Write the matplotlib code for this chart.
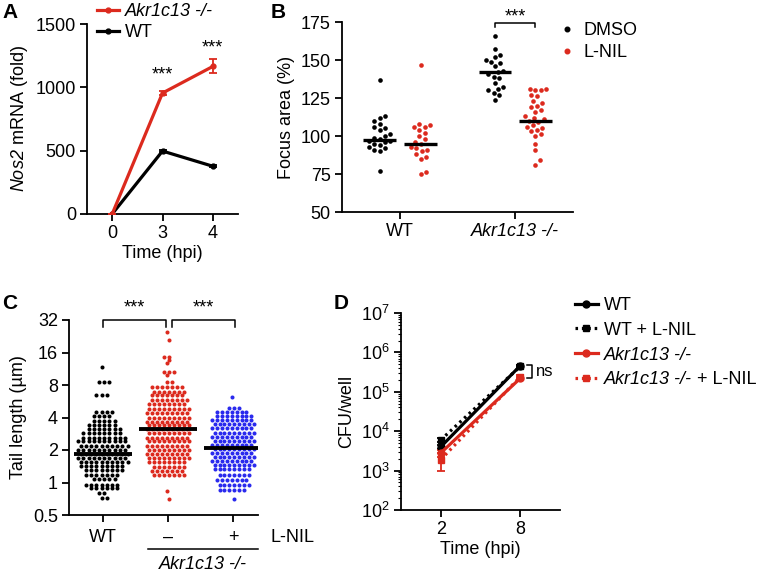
import numpy as np
import matplotlib

matplotlib.use("Agg")
import matplotlib.pyplot as plt
from matplotlib.lines import Line2D
from matplotlib.ticker import LogLocator, NullFormatter

plt.rcParams["font.family"] = ["Liberation Sans", "DejaVu Sans"]
plt.rcParams["mathtext.fontset"] = "custom"
plt.rcParams["mathtext.rm"] = "Liberation Sans"
plt.rcParams["mathtext.sf"] = "Liberation Sans:italic"
plt.rcParams["mathtext.it"] = "Liberation Sans:italic"
plt.rcParams["mathtext.bf"] = "Liberation Sans:bold"

W, H = 766, 574
FS = 13
RED = "#DC2A1E"
BLUE = "#2A2AEE"

# ---- panel A: Nos2 mRNA time course
a_time_labels = ["0", "3", "4"]
a_akr = [0, 955, 1165]
a_akr_err = [0, 15, 55]
a_wt = [0, 497, 377]
a_wt_err = [0, 8, 8]

# ---- panel B: focus area (%)
b_groups = ["WT", "Akr1c13 -/-"]
b_wt_dmso = [137, 113, 112, 110, 108, 106, 105, 104, 101, 100, 99, 98, 97, 97,
             96, 95, 94, 93, 92, 91, 90, 77]
b_wt_lnil = [147, 108, 107, 106, 106, 104, 102, 100, 98, 96, 95, 93, 92, 91,
             90, 88, 86, 85, 76, 75]
b_ko_dmso = [166, 157, 153, 152, 150, 149, 148, 146, 143, 142, 141, 139, 138,
             135, 132, 131, 130, 128, 127, 124]
b_ko_lnil = [131, 131, 130, 130, 127, 126, 123, 122, 120, 119, 117, 116, 113,
             112, 111, 110, 109, 107, 106, 105, 104, 103, 101, 100, 95, 91, 84, 81]
b_medians = [97.5, 95, 142, 110]

# ---- panel C: tail length (um), dot rows
c_tick_labels = ["WT", "\u2013", "+"]
c_wt_levels = [11.7, 8.5, 6.5, 4.5, 4.1, 3.7, 3.4, 3.1, 2.85, 2.6, 2.4, 2.2,
               2.0, 1.84, 1.68, 1.55, 1.42, 1.30, 1.18, 1.08, 0.95, 0.89,
               0.80, 0.72]
c_wt_counts = [1, 3, 3, 4, 4, 5, 6, 7, 8, 9, 10, 10, 10, 10, 10, 10, 9, 8, 7,
               5, 7, 6, 2, 2]
c_ko_levels = [24.6, 20.9, 14.6, 13.5, 12.8, 10.6, 9.9, 8.6, 7.7, 6.9, 6.4, 5.8,
               5.3, 4.8, 4.4, 4.0, 3.65, 3.4, 3.13, 2.85, 2.6, 2.4, 2.19, 2.0,
               1.83, 1.67, 1.56, 1.40, 1.29, 1.17, 0.84, 0.70]
c_ko_counts = [1, 1, 2, 1, 1, 3, 1, 2, 7, 7, 7, 8, 8, 9, 9, 9, 9, 9, 9, 9, 9, 9,
               9, 9, 9, 9, 8, 7, 7, 7, 1, 1]
c_lnil_levels = [6.2, 4.9, 4.5, 4.13, 3.79, 3.48, 3.18, 2.89, 2.65, 2.44, 2.24,
                 2.06, 1.89, 1.73, 1.59, 1.46, 1.34, 1.17, 1.06, 0.95, 0.86, 0.71]
c_lnil_counts = [1, 3, 7, 8, 9, 9, 9, 9, 9, 9, 9, 9, 9, 9, 9, 9, 8, 7, 7, 7, 6, 1]
c_medians = [1.84, 3.13, 2.09]
c_yticks = [0.5, 1, 2, 4, 8, 16, 32]
c_ytick_labels = ["0.5", "1", "2", "4", "8", "16", "32"]

# ---- panel D: CFU/well
d_time_labels = ["2", "8"]
d_wt = [4.0e3, 4.6e5]
d_wt_err = [0.5e3, 0.3e5]
d_wt_lnil = [6.0e3, 4.4e5]
d_wt_lnil_err = [0.8e3, 0.3e5]
d_ko = [2.8e3, 2.2e5]
d_ko_err = [0.6e3, 0.2e5]
d_ko_lnil = [1.9e3, 2.4e5]
d_ko_lnil_err = [0.9e3, 0.3e5]


def add_axes_px(fig, left, top, right, bottom):
    return fig.add_axes([left / W, 1 - bottom / H, (right - left) / W, (bottom - top) / H])


def style_axes(ax):
    for side in ("top", "right"):
        ax.spines[side].set_visible(False)
    for side in ("left", "bottom"):
        ax.spines[side].set_linewidth(1.3)
    ax.tick_params(axis="both", direction="out", length=5, width=1.3,
                   labelsize=FS, pad=3)


def px_per_unit_x(ax):
    p = ax.transData.transform([[0, 1], [1, 1]])
    return abs(p[1, 0] - p[0, 0])


def swarm_offsets(ax, values, diameter_px):
    ys = ax.transData.transform(np.column_stack([np.ones(len(values)), values]))[:, 1]
    order = np.argsort(ys)
    placed = []
    offs = np.zeros(len(values))
    step = diameter_px / 4
    for n, i in enumerate(order):
        y = ys[i]
        k = 0
        found = None
        while found is None:
            if k == 0:
                cands = [0.0]
            elif n % 2:
                cands = [k * step, -k * step]
            else:
                cands = [-k * step, k * step]
            for c in cands:
                if all((c - px) ** 2 + (y - py) ** 2 >= diameter_px ** 2 for px, py in placed):
                    found = c
                    break
            k += 1
        placed.append((found, y))
        offs[i] = found
    return offs / px_per_unit_x(ax)


def fig_text_px(fig, x, y, s, **kw):
    fig.text(x / W, 1 - y / H, s, **kw)


fig = plt.figure(figsize=(W / 100, H / 100), dpi=100)

# ================= A =================
ax = add_axes_px(fig, 87, 24, 238, 214)
style_axes(ax)
xa = np.arange(len(a_time_labels))
ax.errorbar(xa, a_wt, yerr=a_wt_err, color="black", lw=2.3, marker="o", ms=3.5,
            capsize=3, elinewidth=1.3, capthick=1.3, zorder=3)
ax.errorbar(xa, a_akr, yerr=a_akr_err, color=RED, lw=2.3, marker="o", ms=3.5,
            capsize=3, elinewidth=1.3, capthick=1.3, zorder=4)
ax.set_xlim(-0.5, 2.5)
ax.set_ylim(0, 1500)
ax.set_yticks([0, 500, 1000, 1500])
ax.set_xticks(xa)
ax.set_xticklabels(a_time_labels)
ax.set_xlabel("Time (hpi)", fontsize=FS, labelpad=2)
ax.set_ylabel(r"$\mathsf{Nos2}$ mRNA (fold)", fontsize=FS, labelpad=4)
for xi, yv in ((1, a_akr[1] + 140), (2, a_akr[2] + 145)):
    ax.text(xi, yv, "***", ha="center", va="center", fontsize=FS)
a_handles = [Line2D([], [], color=RED, lw=2.3, marker="o", ms=3.5),
             Line2D([], [], color="black", lw=2.3, marker="o", ms=3.5)]
leg = ax.legend(a_handles, ["Akr1c13 -/-", "WT"], loc="upper left",
                bbox_to_anchor=(97 / W, 1 - 3 / H), bbox_transform=fig.transFigure,
                frameon=False, fontsize=FS, borderpad=0, borderaxespad=0,
                handlelength=1.2, handletextpad=0.35, labelspacing=0.22)
leg.get_texts()[0].set_fontstyle("italic")

# ================= B =================
ax = add_axes_px(fig, 342, 22, 573, 212)
style_axes(ax)
ax.set_xlim(0.5, 2.5)
ax.set_ylim(50, 175)
ax.set_yticks([50, 75, 100, 125, 150, 175])
ax.set_xticks([1, 2])
ax.set_xticklabels(b_groups)
ax.get_xticklabels()[1].set_fontstyle("italic")
ax.set_ylabel("Focus area (%)", fontsize=FS, labelpad=4)
b_sets = [(1 - 0.175, b_wt_dmso, "black"), (1 + 0.18, b_wt_lnil, RED),
          (2 - 0.175, b_ko_dmso, "black"), (2 + 0.175, b_ko_lnil, RED)]
for (xc, vals, col), med in zip(b_sets, b_medians):
    offs = swarm_offsets(ax, vals, 5.4)
    ax.scatter(xc + offs, vals, s=11, color=col, linewidths=0, zorder=3)
    ax.plot([xc - 0.14, xc + 0.14], [med, med], color="black", lw=2.4,
            solid_capstyle="butt", zorder=4)
ax.plot([2 - 0.175, 2 - 0.175, 2 + 0.175, 2 + 0.175], [172, 174.5, 174.5, 172],
        color="black", lw=1.1, clip_on=False)
ax.text(2, 178.5, "***", ha="center", va="center", fontsize=FS)
handles = [Line2D([], [], ls="none", marker="o", ms=3.3, color="black"),
           Line2D([], [], ls="none", marker="o", ms=3.3, color=RED)]
ax.legend(handles, ["DMSO", "L-NIL"], loc="upper left",
          bbox_to_anchor=(558 / W, 1 - 22 / H), bbox_transform=fig.transFigure,
          frameon=False, fontsize=FS, borderpad=0, borderaxespad=0,
          handlelength=1.0, handletextpad=0.4, labelspacing=0.28)

# ================= C =================
ax = add_axes_px(fig, 69, 320, 258, 515)
style_axes(ax)
ax.set_yscale("log", base=2)
ax.set_ylim(0.5, 32)
ax.set_xlim(0.477, 3.385)
ax.set_yticks(c_yticks)
ax.set_yticklabels(c_ytick_labels)
ax.minorticks_off()
ax.set_xticks([1, 2, 3])
ax.set_xticklabels(c_tick_labels)
ax.tick_params(axis="x", pad=5)
ax.set_ylabel("Tail length (\u00b5m)", fontsize=FS, labelpad=4)
ppu = px_per_unit_x(ax)
c_sets = [(1, c_wt_levels, c_wt_counts, "black", 5.2),
          (2, c_ko_levels, c_ko_counts, RED, 5.0),
          (3, c_lnil_levels, c_lnil_counts, BLUE, 4.9)]
for (xc, levels, counts, col, sp), med in zip(c_sets, c_medians):
    xs, ys = [], []
    for row, (lev, n) in enumerate(zip(levels, counts)):
        shift = sp * 0.25 * (1 if row % 2 else -1)
        offs = ((np.arange(n) - (n - 1) / 2) * sp + shift) / ppu
        xs.extend(xc + offs)
        ys.extend([lev] * n)
    ax.scatter(xs, ys, s=8.5, color=col, linewidths=0, zorder=3)
    ax.plot([xc - 0.45, xc + 0.45], [med, med], color="black", lw=2.8,
            solid_capstyle="butt", zorder=4)
for x0, x1 in ((1.0, 1.97), (2.06, 3.03)):
    ax.plot([x0, x0, x1, x1], [27.7, 32, 32, 27.7], color="black", lw=1.1,
            clip_on=False)
    ax.text((x0 + x1) / 2, 41, "***", ha="center", va="center", fontsize=FS)
trans = ax.get_xaxis_transform()
ax.text(3.92, -0.113, "L-NIL", transform=trans, ha="center", va="center",
        fontsize=FS, clip_on=False)
ax.plot([1.69, 3.38], [-0.174, -0.174], transform=trans, color="black", lw=1.1,
        clip_on=False)
ax.text(2.53, -0.255, "Akr1c13 -/-", transform=trans, ha="center", va="center",
        fontsize=FS, fontstyle="italic", clip_on=False)

# ================= D =================
ax = add_axes_px(fig, 401, 313, 560, 510)
style_axes(ax)
ax.set_yscale("log")
ax.set_ylim(1e2, 1e7)
ax.set_yticks([10.0 ** k for k in range(2, 8)])
ax.yaxis.set_minor_locator(LogLocator(base=10, subs=np.arange(2, 10), numticks=20))
ax.yaxis.set_minor_formatter(NullFormatter())
ax.set_xlim(-0.5, 1.5)
xd = np.arange(len(d_time_labels))
ax.set_xticks(xd)
ax.set_xticklabels(d_time_labels)
ax.tick_params(axis="y", which="minor", length=2.5, width=0.8)
ax.set_ylabel("CFU/well", fontsize=FS, labelpad=4)
ax.set_xlabel("Time (hpi)", fontsize=FS, labelpad=2)
dot = (0, (0.8, 1.2))
series = [
    (d_wt, d_wt_err, "black", "-", "o", "WT"),
    (d_wt_lnil, d_wt_lnil_err, "black", dot, "s", "WT + L-NIL"),
    (d_ko, d_ko_err, RED, "-", "o", "Akr1c13 -/-"),
    (d_ko_lnil, d_ko_lnil_err, RED, dot, "s", "Akr1c13 -/-"),
]
d_handles = []
for vals, err, col, ls, mk, lab in series:
    ax.errorbar(xd, vals, yerr=err, color=col, ls=ls, lw=2.3, marker=mk, ms=5,
                capsize=3, elinewidth=1.3, capthick=1.3, zorder=3)
    d_handles.append(Line2D([], [], color=col, ls=ls, lw=2.3, marker=mk, ms=5))
ax.plot([1.09, 1.15, 1.15, 1.09], [4.7e5, 4.7e5, 2.3e5, 2.3e5], color="black",
        lw=1.1, clip_on=False)
ax.text(1.2, 3.3e5, "ns", ha="left", va="center", fontsize=FS - 1)
leg = ax.legend(d_handles, [s[5] for s in series], loc="upper left",
                bbox_to_anchor=(575 / W, 1 - 297 / H), bbox_transform=fig.transFigure,
                frameon=False, fontsize=FS, borderpad=0, borderaxespad=0,
                handlelength=1.25, handletextpad=0.35, labelspacing=0.43)
leg_texts = leg.get_texts()
leg_texts[2].set_fontstyle("italic")
leg_texts[3].set_fontstyle("italic")

# panel letters
for letter, x, y in (("A", 2, 3), ("B", 271, 3), ("C", 2, 294), ("D", 334, 294)):
    fig_text_px(fig, x, y, letter, fontsize=15, fontweight="bold", va="top", ha="left")

# upright "+ L-NIL" after the italic genotype in the last legend entry
fig.canvas.draw()
bb = leg_texts[3].get_window_extent()
fig.text(bb.x1 / fig.bbox.width, bb.y0 / fig.bbox.height, " + L-NIL",
         ha="left", va="bottom", fontsize=FS)

fig.savefig("out.png", dpi=100)
